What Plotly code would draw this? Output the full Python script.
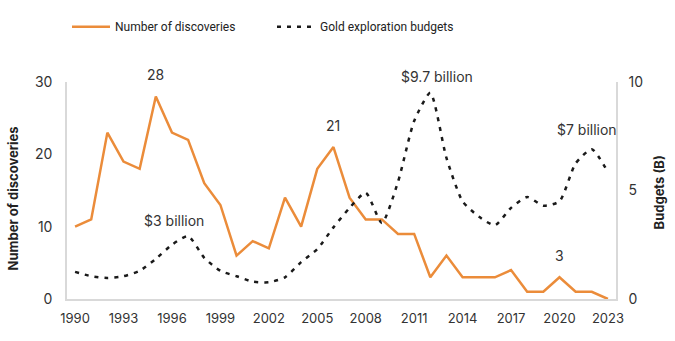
import plotly.graph_objects as go

years = list(range(1990, 2024))
discoveries = [10, 11, 23, 19, 18, 28, 23, 22, 16, 13, 6, 8, 7, 14, 10, 18, 21, 14, 11, 11,
               9, 9, 3, 6, 3, 3, 3, 4, 1, 1, 3, 1, 1, 0]
budgets = [1.25, 1.05, 0.97, 1.05, 1.3, 1.85, 2.5, 2.9, 1.9, 1.3, 1.05, 0.8, 0.77, 1.0, 1.7,
           2.3, 3.3, 4.2, 4.9, 3.5, 5.4, 8.2, 9.5, 6.5, 4.5, 3.8, 3.4, 4.2, 4.7, 4.3, 4.5, 6.25,
           6.9, 5.85]
x_ticks = list(range(1990, 2024, 3))

labels_disc = [(1995, 28, "28"), (2006, 21, "21"), (2020, 3, "3")]
labels_budget = [(1996.1, 2.9, "$3 billion"), (2012.4, 9.5, "$9.7 billion"),
                 (2021.7, 6.9, "$7 billion")]

FONT = "Inter"
TXT = "#333333"

PL, PR, PT, PB = 67, 59, 79, 42
W, H = 675, 341
pw, ph = W - PL - PR, H - PT - PB

fig = go.Figure()
fig.add_trace(go.Scatter(x=years, y=discoveries, name="Number of discoveries", mode="lines",
                         line=dict(color="#EB8C3A", width=2.5), yaxis="y"))
fig.add_trace(go.Scatter(x=years, y=budgets, name="Gold exploration budgets", mode="lines",
                         line=dict(color="#1a1a1a", width=2.5, dash="4px,6px", shape="spline",
                                   smoothing=0.6),
                         yaxis="y2"))

ann = []
for x, y, t in labels_disc:
    ann.append(dict(x=x, y=y, xref="x", yref="y", text=t, showarrow=False, yshift=22,
                    font=dict(size=14, color=TXT, family=FONT)))
for x, y, t in labels_budget:
    ys = 20 if t == "$7 billion" else 16
    ann.append(dict(x=x, y=y, xref="x", yref="y2", text=t, showarrow=False, yshift=ys,
                    font=dict(size=14, color=TXT, family=FONT)))
ann.append(dict(x=(13 - PL) / pw, y=(PT + ph - 197) / ph, xref="paper", yref="paper",
                xanchor="center", yanchor="middle",
                text="<b>Number of discoveries</b>", textangle=-90, showarrow=False,
                font=dict(size=13, color="#222222", family=FONT)))
ann.append(dict(x=(659 - PL) / pw, y=(PT + ph - 191) / ph, xref="paper", yref="paper",
                xanchor="center", yanchor="middle",
                text="<b>Budgets (B)</b>", textangle=-90, showarrow=False,
                font=dict(size=13, color="#222222", family=FONT)))

fig.update_layout(
    width=W, height=H,
    margin=dict(l=PL, r=PR, t=PT, b=PB),
    paper_bgcolor="white", plot_bgcolor="white",
    font=dict(family=FONT, size=13, color=TXT),
    showlegend=True,
    legend=dict(orientation="h", x=0.0, xanchor="left", y=(PT + ph - 23) / ph,
                yanchor="middle", itemwidth=38,
                font=dict(size=12, color="#222222", family="Roboto"),
                entrywidth=152, entrywidthmode="pixels", bgcolor="rgba(0,0,0,0)"),
    xaxis=dict(range=[1989.5, 2023.5], tickvals=x_ticks, showgrid=False, zeroline=False,
               showline=True, linecolor="#d9d9d9", linewidth=1.5, ticks="",
               tickfont=dict(size=13, color=TXT), ticklabelstandoff=7),
    yaxis=dict(range=[0, 30], tickvals=[0, 10, 20, 30], showgrid=False, zeroline=False,
               showline=True, linecolor="#d9d9d9", linewidth=1.5, ticks="",
               tickfont=dict(size=14, color=TXT), ticklabelstandoff=10),
    yaxis2=dict(range=[0, 10], tickvals=[0, 5, 10], overlaying="y", side="right",
                showgrid=False, zeroline=False, showline=True, linecolor="#d9d9d9",
                linewidth=1.5, ticks="", tickfont=dict(size=14, color=TXT),
                ticklabelstandoff=8),
    annotations=ann,
)

fig.write_html("out.html")
